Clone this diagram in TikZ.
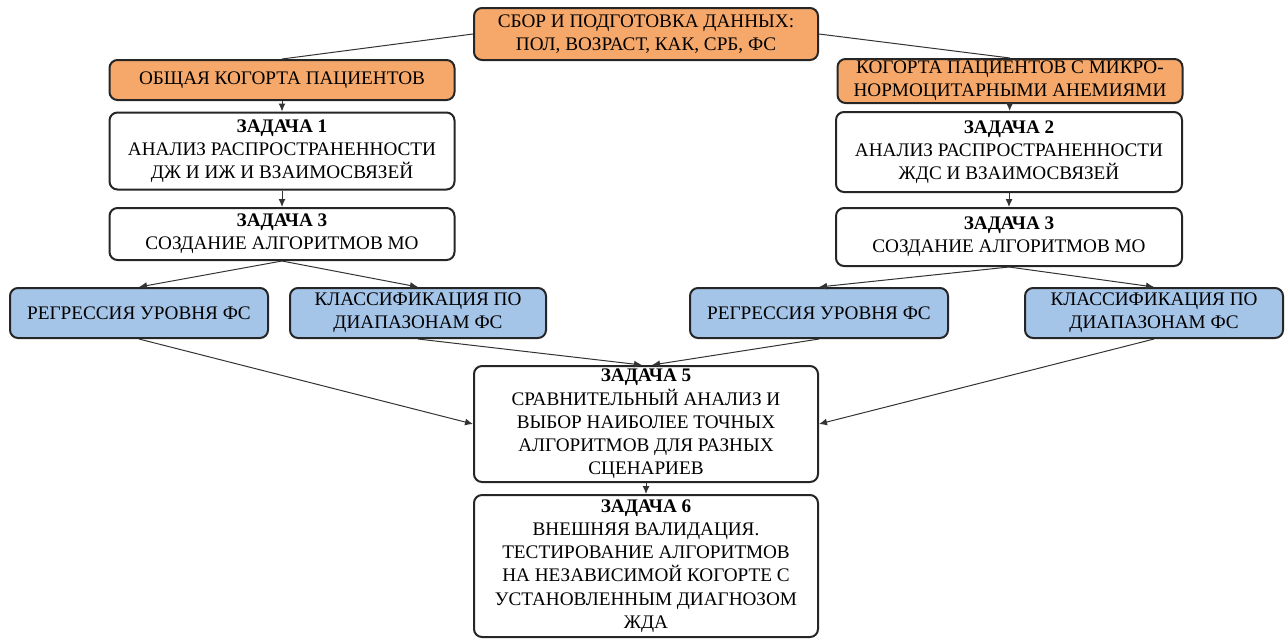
\documentclass[tikz,border=0pt]{standalone}
\usepackage{fontspec}
\setmainfont{Liberation Serif}
\usetikzlibrary{arrows.meta}
\definecolor{cohortorange}{RGB}{245,168,106}
\definecolor{mlblue}{RGB}{164,196,232}
\tikzset{
  box/.style={draw=black!85,line width=1pt,rounded corners=4pt,align=center,
    inner sep=1pt,font=\rmfamily\fontsize{9.6}{11.6}\selectfont},
  databox/.style={box,fill=cohortorange},
  taskbox/.style={box,fill=white},
  mlbox/.style={box,fill=mlblue},
  link/.style={line width=0.5pt,black!80},
  arr/.style={link,-{Latex[length=4pt,width=3.5pt]}}
}
\begin{document}
\begin{tikzpicture}[x=0.5pt,y=-0.5pt]
        \useasboundingbox (0,0) rectangle (1288,639);
        % data collection
        \node[databox,minimum width=172pt,minimum height=26pt] (data) at (646,34) {СБОР И ПОДГОТОВКА ДАННЫХ:\\ПОЛ, ВОЗРАСТ, КАК, СРБ, ФС};
        % left branch
        \node[databox,minimum width=172.5pt,minimum height=20pt] (cohortL) at (282,80) {ОБЩАЯ КОГОРТА ПАЦИЕНТОВ};
        \node[taskbox,minimum width=172.5pt,minimum height=38.5pt] (task1) at (282,151) {\textbf{ЗАДАЧА 1}\\АНАЛИЗ РАСПРОСТРАНЕННОСТИ\\ДЖ И ИЖ И ВЗАИМОСВЯЗЕЙ};
        \node[taskbox,minimum width=172.5pt,minimum height=26pt] (task3L) at (282,234) {\textbf{ЗАДАЧА 3}\\СОЗДАНИЕ АЛГОРИТМОВ МО};
        \node[mlbox,minimum width=129pt,minimum height=25pt] (regL) at (139,313) {РЕГРЕССИЯ УРОВНЯ ФС};
        \node[mlbox,minimum width=128pt,minimum height=25pt] (clsL) at (418,313) {КЛАССИФИКАЦИЯ ПО\\ДИАПАЗОНАМ ФС};
        % right branch
        \node[databox,minimum width=172.5pt,minimum height=21pt] (cohortR) at (1010,81) {КОГОРТА ПАЦИЕНТОВ С МИКРО-\\НОРМОЦИТАРНЫМИ АНЕМИЯМИ};
        \node[taskbox,minimum width=173pt,minimum height=40pt] (task2) at (1009,152) {\textbf{ЗАДАЧА 2}\\АНАЛИЗ РАСПРОСТРАНЕННОСТИ\\ЖДС И ВЗАИМОСВЯЗЕЙ};
        \node[taskbox,minimum width=173pt,minimum height=29pt] (task3R) at (1009,237) {\textbf{ЗАДАЧА 3}\\СОЗДАНИЕ АЛГОРИТМОВ МО};
        \node[mlbox,minimum width=129pt,minimum height=25pt] (regR) at (819,313) {РЕГРЕССИЯ УРОВНЯ ФС};
        \node[mlbox,minimum width=129pt,minimum height=25pt] (clsR) at (1154,313) {КЛАССИФИКАЦИЯ ПО\\ДИАПАЗОНАМ ФС};
        % comparison and validation
        \node[taskbox,minimum width=172pt,minimum height=58pt] (task5) at (646,424) {\textbf{ЗАДАЧА 5}\\СРАВНИТЕЛЬНЫЙ АНАЛИЗ И\\ВЫБОР НАИБОЛЕЕ ТОЧНЫХ\\АЛГОРИТМОВ ДЛЯ РАЗНЫХ\\СЦЕНАРИЕВ};
        \node[taskbox,minimum width=172pt,minimum height=71pt] (task6) at (646,566) {\textbf{ЗАДАЧА 6}\\ВНЕШНЯЯ ВАЛИДАЦИЯ.\\ТЕСТИРОВАНИЕ АЛГОРИТМОВ\\НА НЕЗАВИСИМОЙ КОГОРТЕ С\\УСТАНОВЛЕННЫМ ДИАГНОЗОМ\\ЖДА};
        % connectors
        \draw[link] (data.west) -- (cohortL.north);
        \draw[link] (data.east) -- (cohortR.north);
        \draw[arr] (cohortL) -- (task1);
        \draw[arr] (task1) -- (task3L);
        \draw[arr] (task3L.south) -- (regL.north);
        \draw[arr] (task3L.south) -- (clsL.north);
        \draw[arr] (cohortR) -- (task2);
        \draw[arr] (task2) -- (task3R);
        \draw[arr] (task3R.south) -- (regR.north);
        \draw[arr] (task3R.south) -- (clsR.north);
        \draw[arr] (regL.south) -- (task5.west);
        \draw[arr] (clsL.south) -- ([xshift=-2pt]task5.north);
        \draw[arr] (regR.south) -- ([xshift=3pt]task5.north);
        \draw[arr] (clsR.south) -- (task5.east);
        \draw[arr] (task5) -- (task6);
    \end{tikzpicture}
\end{document}
